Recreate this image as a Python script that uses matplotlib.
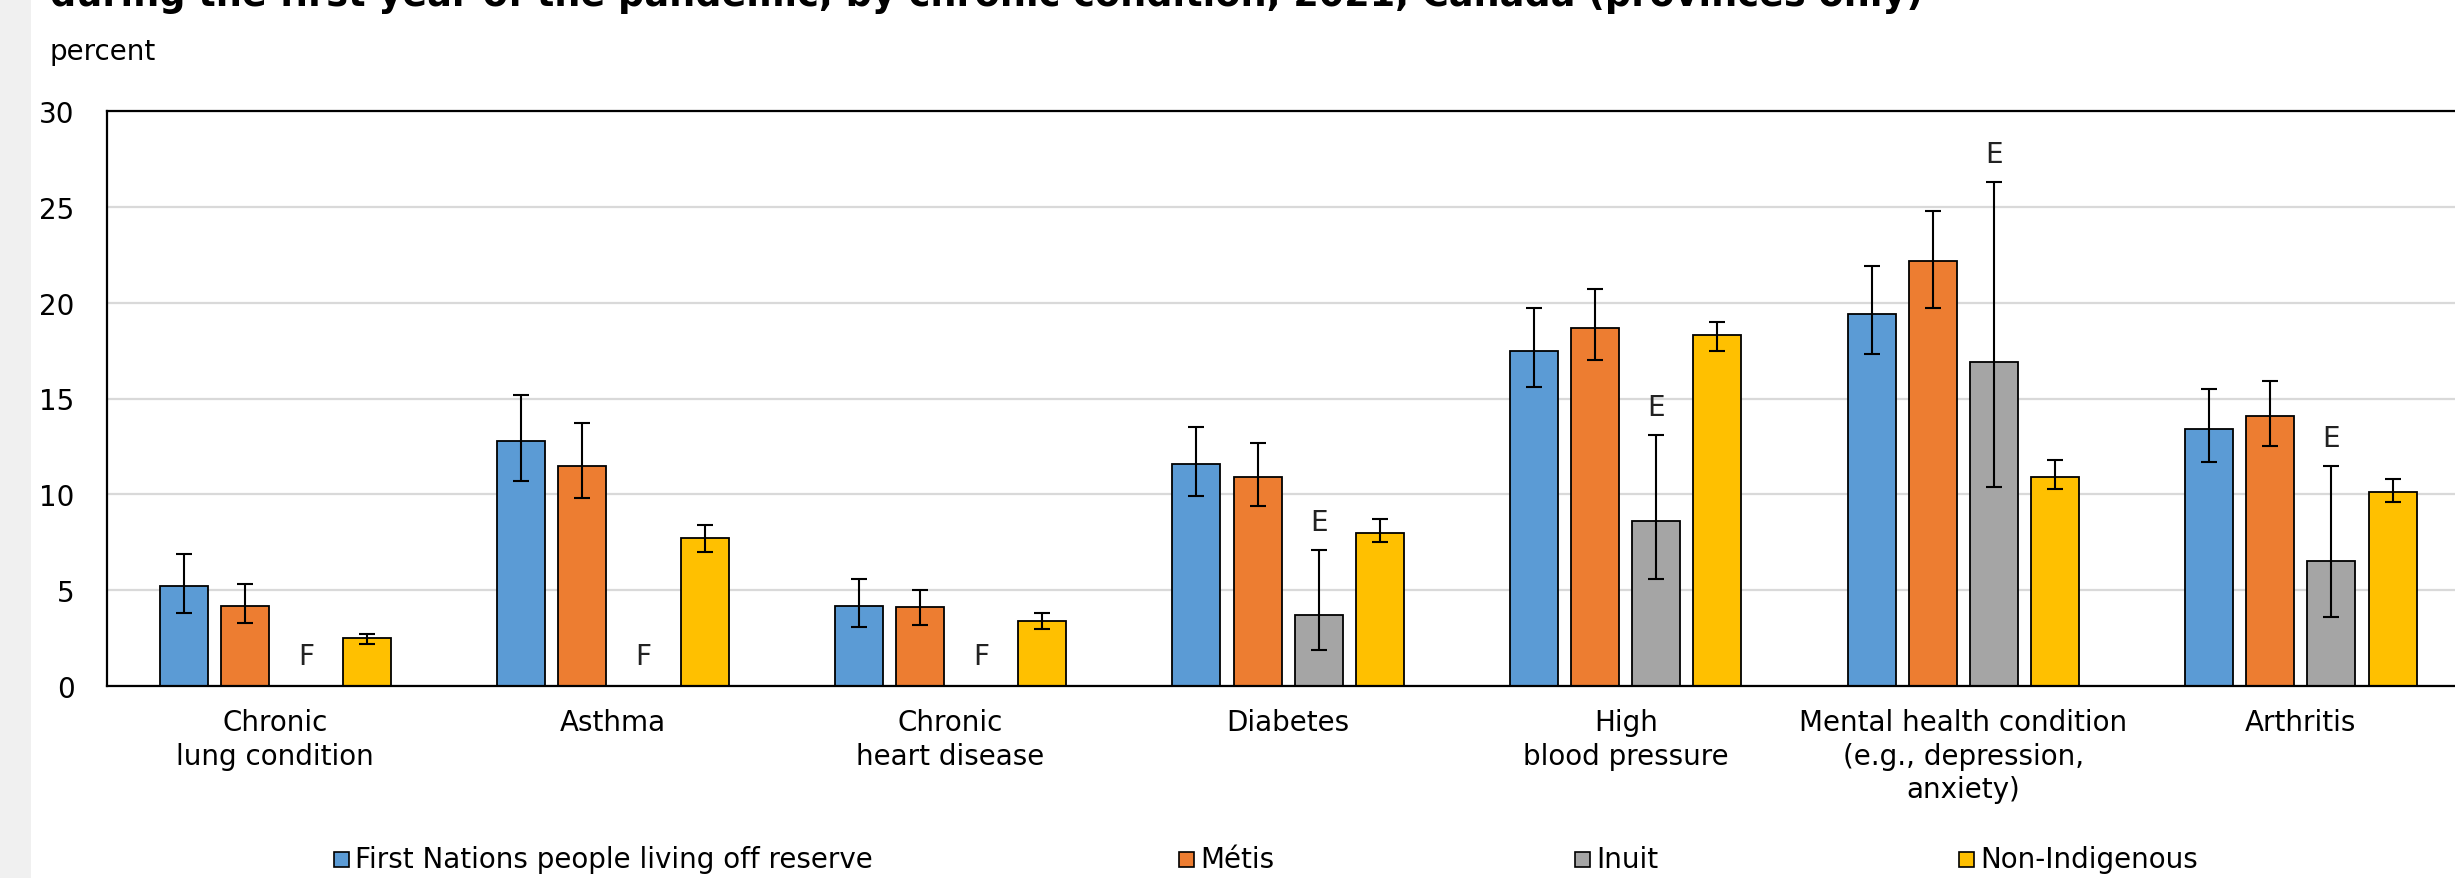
import numpy as np
import matplotlib
matplotlib.use("Agg")
import matplotlib.pyplot as plt
from matplotlib.patches import Rectangle

plt.rcParams['font.family'] = ['DejaVu Sans']

# ---------------- data ----------------
categories = ["Chronic\nlung condition", "Asthma", "Chronic\nheart disease", "Diabetes",
              "High\nblood pressure", "Mental health condition\n(e.g., depression,\nanxiety)",
              "Arthritis"]
series_names = ["First Nations people living off reserve", "Métis", "Inuit", "Non-Indigenous"]

first_nations = [5.2, 12.8, 4.2, 11.6, 17.5, 19.4, 13.4]
first_nations_low = [3.8, 10.7, 3.1, 9.9, 15.6, 17.3, 11.7]
first_nations_high = [6.9, 15.2, 5.6, 13.5, 19.7, 21.9, 15.5]

metis = [4.2, 11.5, 4.1, 10.9, 18.7, 22.2, 14.1]
metis_low = [3.3, 9.8, 3.2, 9.4, 17.0, 19.7, 12.5]
metis_high = [5.3, 13.7, 5.0, 12.7, 20.7, 24.8, 15.9]

inuit = [np.nan, np.nan, np.nan, 3.7, 8.6, 16.9, 6.5]
inuit_low = [np.nan, np.nan, np.nan, 1.9, 5.6, 10.4, 3.6]
inuit_high = [np.nan, np.nan, np.nan, 7.1, 13.1, 26.3, 11.5]
inuit_flags = ["F", "F", "F", "E", "E", "E", "E"]

non_indigenous = [2.5, 7.7, 3.4, 8.0, 18.3, 10.9, 10.1]
non_indigenous_low = [2.2, 7.0, 3.0, 7.5, 17.5, 10.3, 9.6]
non_indigenous_high = [2.7, 8.4, 3.8, 8.7, 19.0, 11.8, 10.8]

y_ticks = [0, 5, 10, 15, 20, 25, 30]
y_label = "percent"
title = "during the first year of the pandemic, by chronic condition, 2021, Canada (provinces only)"

# ---------------- style ----------------
colors = ["#5B9BD5", "#ED7D31", "#A5A5A5", "#FFC000"]
W, H = 2455, 879
FS = 20

fig = plt.figure(figsize=(W / 100, H / 100), dpi=100)
fig.patch.set_facecolor("white")
fig.patches.append(Rectangle((0, 0), 31 / W, 1, transform=fig.transFigure,
                             facecolor="#F0F0F0", edgecolor="none", zorder=-10))

ax_left, ax_top, ax_bottom = 106.5, 112, 687
unit_px = 337.6
ax = fig.add_axes([ax_left / W, 1 - ax_bottom / H, 7 * unit_px / W, (ax_bottom - ax_top) / H])

x = np.arange(len(categories))
pitch, width = 0.181, 0.142
vals = [first_nations, metis, inuit, non_indigenous]
lows = [first_nations_low, metis_low, inuit_low, non_indigenous_low]
highs = [first_nations_high, metis_high, inuit_high, non_indigenous_high]

for i, (v, lo, hi, c) in enumerate(zip(vals, lows, highs, colors)):
    v = np.array(v, dtype=float)
    lo = np.array(lo, dtype=float)
    hi = np.array(hi, dtype=float)
    xs = x + (i - 1.5) * pitch
    ax.bar(xs, np.nan_to_num(v), width=width, color=c, edgecolor="black",
           linewidth=1.3, zorder=2)
    m = ~np.isnan(v)
    ax.errorbar(xs[m], v[m], yerr=[v[m] - lo[m], hi[m] - v[m]], fmt="none",
                ecolor="black", elinewidth=1.5, capsize=6, capthick=1.5, zorder=3)
    if i == 2:
        for j, flag in enumerate(inuit_flags):
            if flag == "F":
                ax.text(xs[j], 1.55, "F", ha="center", va="center", fontsize=FS,
                        color="#222222")
            elif flag == "E":
                ax.text(xs[j], hi[j] + 1.45, "E", ha="center", va="center", fontsize=FS,
                        color="#222222")

ax.set_xlim(-0.5, 6.5)
ax.set_ylim(0, 30)
ax.set_yticks(y_ticks)
ax.set_yticklabels([str(t) for t in y_ticks], fontsize=FS)
ax.set_xticks(x)
ax.set_xticklabels(categories, fontsize=FS, linespacing=1.25)
ax.tick_params(axis="y", length=0, pad=23)
ax.tick_params(axis="x", length=0, pad=16)
ax.yaxis.grid(True, color="#D9D9D9", linewidth=1.6)
ax.set_axisbelow(True)
for s in ["left", "bottom", "top"]:
    ax.spines[s].set_color("black")
    ax.spines[s].set_linewidth(1.6)
ax.spines["right"].set_visible(False)

fig.text(50 / W, 1 - 52 / H, y_label, fontsize=FS, ha="left", va="center")

# legend (manual, as in reference)
sq_left = [334, 1179, 1575, 1959]
sq = 15
ly = 860
for name, c, xl in zip(series_names, colors, sq_left):
    fig.patches.append(Rectangle((xl / W, 1 - (ly + sq / 2) / H), sq / W, sq / H,
                                 transform=fig.transFigure, facecolor=c,
                                 edgecolor="black", linewidth=1.2))
    fig.text((xl + 21) / W, 1 - ly / H, name, fontsize=FS, ha="left", va="center")

# title (cut off at the top, as in reference)
t = fig.text(50 / W, 1 - 6 / H, title, fontsize=22, fontweight="bold",
             ha="left", va="baseline")
fig.canvas.draw()
w = t.get_window_extent().width
t.set_fontsize(22 * 1864 / w)

fig.savefig("out.png", dpi=100)
